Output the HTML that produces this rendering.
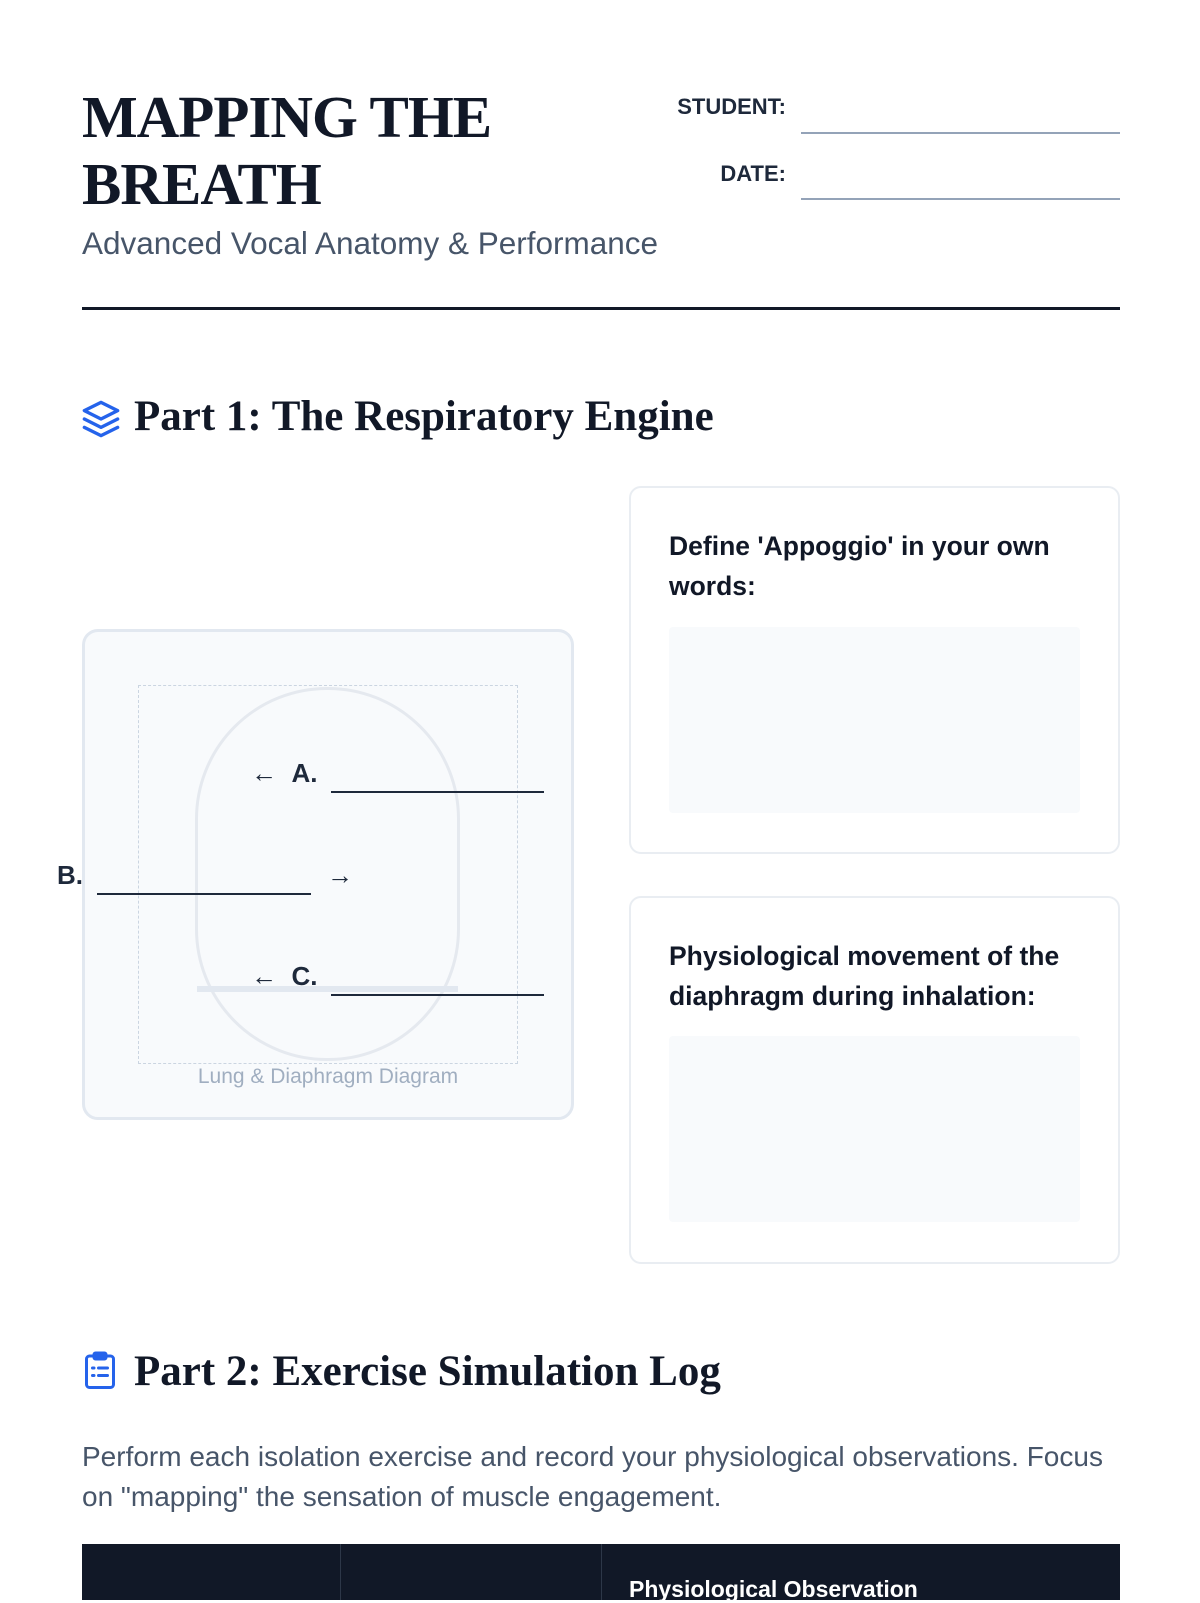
<!DOCTYPE html>
<html><head><meta charset="utf-8"><style>
*{margin:0;padding:0;box-sizing:border-box}
body{width:1200px;height:1600px;overflow:hidden;background:#fff;font-family:"Liberation Sans",sans-serif;color:#0f172a;position:relative}
.a{position:absolute}
.serif{font-family:"Liberation Serif",serif;font-weight:bold}
.lbl{font-weight:bold;font-size:22px;color:#1e293b}
.line{position:absolute;height:2px;background:#1e293b}
.card{position:absolute;border:2px solid #e9edf2;border-radius:12px;background:#fff}
.q{position:absolute;left:38px;right:30px;font-size:26.5px;font-weight:bold;line-height:40px;color:#111827}
.ans{position:absolute;left:38px;right:38px;background:#f8fafc;border-radius:4px}
</style></head><body>
<div class="a serif" style="left:82px;top:84px;font-size:59px;line-height:67px;letter-spacing:-1px;color:#111827">MAPPING THE<br>BREATH</div>
<div class="a" style="left:82px;top:225px;font-size:31.5px;color:#475569">Advanced Vocal Anatomy &amp; Performance</div>
<div class="a lbl" style="left:600px;width:186px;text-align:right;top:94px">STUDENT:</div>
<div class="a lbl" style="left:600px;width:186px;text-align:right;top:161px">DATE:</div>
<div class="a" style="left:801px;width:319px;top:132px;height:2px;background:#94a3b8"></div>
<div class="a" style="left:801px;width:319px;top:198px;height:2px;background:#94a3b8"></div>
<div class="a" style="left:82px;width:1038px;top:307px;height:3px;background:#111827"></div>

<svg class="a" style="left:81px;top:399px" width="40" height="40" viewBox="0 0 24 24" fill="none" stroke="#2563eb" stroke-width="2" stroke-linecap="round" stroke-linejoin="round"><path d="M12 2 2 7l10 5 10-5-10-5z"/><path d="m2 17 10 5 10-5"/><path d="m2 12 10 5 10-5"/></svg>
<div class="a serif" style="left:134px;top:392px;font-size:43px;line-height:50px;color:#111827">Part 1: The Respiratory Engine</div>

<div class="a" style="left:82px;top:629px;width:492px;height:491px;border:3px solid #e2e8f0;border-radius:16px;background:#f8fafc"></div>
<div class="a" style="left:138px;top:685px;width:380px;height:379px;border:1.5px dashed #cbd5e1"></div>
<div class="a" style="left:195px;top:687px;width:265px;height:374px;border:3px solid #e5e9ef;border-radius:132px"></div>
<div class="a" style="left:197px;top:986px;width:261px;height:6px;background:#e2e8f0"></div>
<div class="a" style="left:138px;width:380px;top:1065px;text-align:center;font-size:21px;color:#a0aec0">Lung &amp; Diaphragm Diagram</div>
<div class="a lbl" style="left:251px;top:758px;font-size:26px">← &nbsp;A.</div>
<div class="line" style="left:331px;width:213px;top:791px"></div>
<div class="a lbl" style="left:57px;top:860px;font-size:26px">B.</div>
<div class="line" style="left:97px;width:214px;top:893px"></div>
<div class="a lbl" style="left:327px;top:860px;font-size:26px">→</div>
<div class="a lbl" style="left:251px;top:961px;font-size:26px">← &nbsp;C.</div>
<div class="line" style="left:331px;width:213px;top:994px"></div>

<div class="card" style="left:629px;top:486px;width:491px;height:368px">
<div class="q" style="top:38px">Define 'Appoggio' in your own words:</div>
<div class="ans" style="top:139px;height:186px"></div></div>
<div class="card" style="left:629px;top:896px;width:491px;height:368px">
<div class="q" style="top:38px">Physiological movement of the diaphragm during inhalation:</div>
<div class="ans" style="top:138px;height:186px"></div></div>

<svg class="a" style="left:82px;top:1351px" width="36" height="40" viewBox="0 0 24 26" fill="none" stroke="#2563eb" stroke-width="2" stroke-linecap="round"><rect x="3" y="3" width="18" height="21" rx="2"/><rect x="8" y="1" width="8" height="4" rx="1"/><path d="M7 11h1M11 11h6M7 16h1M11 16h6"/></svg>
<div class="a serif" style="left:134px;top:1347px;font-size:43px;line-height:50px;color:#111827">Part 2: Exercise Simulation Log</div>
<div class="a" style="left:82px;top:1437px;width:1040px;font-size:28px;line-height:40px;color:#475569">Perform each isolation exercise and record your physiological observations. Focus on "mapping" the sensation of muscle engagement.</div>
<div class="a" style="left:82px;top:1544px;width:1038px;height:56px;background:#111827"></div>
<div class="a" style="left:340px;top:1544px;width:1px;height:56px;background:#2d3748"></div>
<div class="a" style="left:601px;top:1544px;width:1px;height:56px;background:#2d3748"></div>
<div class="a" style="left:629px;top:1576px;font-size:23px;font-weight:bold;color:#fff">Physiological Observation</div>
</body></html>
